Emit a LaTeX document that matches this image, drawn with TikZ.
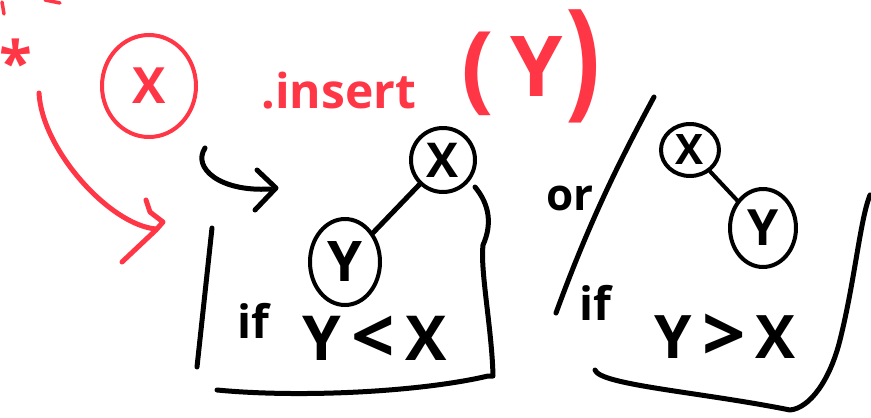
\documentclass[tikz,border=0pt]{standalone}
\usepackage{fontspec}
\setmainfont{Open Sans}
\usetikzlibrary{shapes.geometric,arrows.meta}
\definecolor{pen}{HTML}{FF3646}
\tikzset{
  ink/.style={line width=5pt, line cap=round, line join=round},
  redink/.style={ink, draw=pen},
  blackink/.style={ink, draw=black},
  bubble/.style={ellipse, line width=4pt, inner sep=0pt},
  hand/.style={font=\fontsize{#1}{#1}\selectfont\bfseries},
}
\newcommand{\bigrel}[1]{\,{\fontsize{76}{76}\selectfont\raisebox{-3pt}{#1}}\,}
\begin{document}
\begin{tikzpicture}[x=1pt,y=-1pt]
\useasboundingbox (0,0) rectangle (871,418);
% ---- red part ----
\draw[redink, line width=3.5pt] (2,2) -- (4,14);
\draw[redink, line width=3.5pt] (45,0) -- (60,3);
\node[hand=60, text=pen] (star) at (16,62) {*};
\node[bubble, draw=pen, minimum width=94pt, minimum height=102pt, text=pen,
      hand=50] (rx) at (149,86) {X};
\coordinate (ra) at (39,93);
\coordinate (rb) at (156,229);
\draw[redink] (ra) .. controls (42,150) and (110,225) .. (rb);
\draw[redink] (146,200) -- (150,212) -- (163,222) -- (156,230) -- (122,262);
\node[hand=48, text=pen, anchor=base west] (ins) at (258,108) {.insert};
\node[hand=96, text=pen, anchor=base] (lp) at (478,100) {(};
\node[hand=84, text=pen, anchor=base] (yy) at (537,96) {Y};
\node[hand=130, text=pen, anchor=base, xscale=0.8] (rp) at (583,102) {)};
% ---- black hook arrow ----
\coordinate (ha) at (205,148);
\coordinate (hb) at (270,189);
\draw[blackink] (ha) .. controls (192,168) and (220,192) .. (hb);
\draw[blackink] (257,170) -- (276,188) -- (255,210);
% ---- box 1 ----
\draw[blackink] (212,228) -- (197,367);
\draw[blackink] (217,390) .. controls (300,398) and (420,392) .. (488,376) -- (493,376) .. controls (492,330) and (480,270) .. (483,245) .. controls (492,225) and (490,205) .. (475,187);
\node[bubble, draw, minimum width=64pt, minimum height=64pt, hand=48] (x1) at (443,160) {X};
\node[bubble, draw, minimum width=70pt, minimum height=86pt, hand=56] (y1) at (345,262) {Y};
\draw[blackink] (x1) -- (y1);
\node[hand=46, anchor=base] (if1) at (253,338) {if};
\node[hand=62, anchor=base] (c1) at (375,360) {Y\bigrel{<}X};
% ---- or ----
\node[hand=44, anchor=base] (or) at (570,210) {or};
% ---- box 2 ----
\draw[blackink] (654,97) .. controls (620,160) and (590,220) .. (556,313);
\draw[blackink] (595,370) .. controls (600,385) and (700,392) .. (790,410) .. controls (810,408) and (830,380) .. (840,340) .. controls (855,280) and (860,220) .. (870,195);
\node[bubble, draw, minimum width=58pt, minimum height=52pt, hand=42] (x2) at (690,150) {X};
\node[bubble, draw, minimum width=66pt, minimum height=78pt, hand=50] (y2) at (763,228) {Y};
\draw[blackink, line width=4pt] (x2) -- (y2);
\node[hand=46, anchor=base] (if2) at (595,320) {if};
\node[hand=60, anchor=base] (c2) at (725,358) {Y\bigrel{>}X};
\end{tikzpicture}
\end{document}
